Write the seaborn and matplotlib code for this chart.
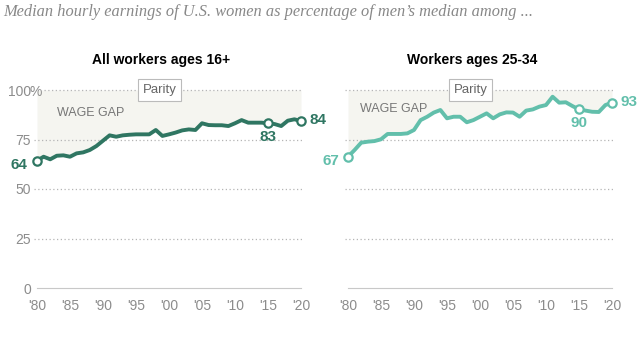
import matplotlib
matplotlib.use("Agg")
import matplotlib.pyplot as plt
import matplotlib.transforms as mtransforms
import seaborn as sns
import pandas as pd

# values
years = list(range(1980, 2021))
all_workers = [64.3, 66.3, 65.0, 66.8, 67.0, 66.3, 68.0, 68.5, 69.7, 71.7,
               74.4, 77.1, 76.4, 77.1, 77.4, 77.6, 77.6, 77.6, 79.8, 76.8,
               77.6, 78.5, 79.6, 80.1, 79.8, 83.2, 82.3, 82.2, 82.2, 81.8,
               83.2, 84.8, 83.5, 83.5, 83.5, 83.2, 82.8, 81.8, 84.5, 85.2,
               84.3]
young_workers = [66.3, 69.7, 73.4, 73.9, 74.2, 75.1, 77.8, 77.8, 77.8, 78.1,
                 79.8, 84.8, 86.5, 88.6, 89.9, 85.7, 86.5, 86.5, 83.7, 84.8,
                 86.5, 88.2, 85.7, 87.7, 88.7, 88.6, 86.5, 89.6, 90.2, 91.6,
                 92.4, 96.6, 93.6, 93.8, 91.9, 90.2, 89.6, 89.0, 88.9, 92.4,
                 93.6]
panel_titles = ["All workers ages 16+", "Workers ages 25-34"]
marked_years = [1980, 2015, 2020]
all_labels = ["64", "83", "84"]
young_labels = ["67", "90", "93"]
xtick_years = [1980, 1985, 1990, 1995, 2000, 2005, 2010, 2015, 2020]
xtick_labels = ["'80", "'85", "'90", "'95", "'00", "'05", "'10", "'15", "'20"]
ytick_vals = [0, 25, 50, 75, 100]
ytick_labels = ["0", "25", "50", "75", "100"]

sns.set_style("white")
plt.rcParams['font.family'] = ['Liberation Sans Narrow', 'Liberation Sans', 'DejaVu Sans']

dark = "#2f7662"
light = "#62bfab"
grey = "#8c8c8c"

df = pd.DataFrame({"year": years, "all": all_workers, "young": young_workers})

fig = plt.figure(figsize=(6.4, 3.6), dpi=100)
ax1 = fig.add_axes([37 / 640, 72 / 360, 264 / 640, 198 / 360])
ax2 = fig.add_axes([348 / 640, 72 / 360, 264 / 640, 198 / 360])

panels = [(ax1, "all", dark, all_labels), (ax2, "young", light, young_labels)]
for i, (ax, col, color, labels) in enumerate(panels):
    ax.fill_between(df["year"], df[col], 100, color="#f5f5f0", lw=0, zorder=0)
    for v in [25, 50, 75, 100]:
        start = 0.027 if (i == 0 and v == 100) else -0.01
        ax.axhline(v, color="#b5b5b5", ls=(0, (1, 2)), lw=0.9, zorder=1,
                   xmin=start, xmax=1.005, clip_on=False)
    sns.lineplot(data=df, x="year", y=col, ax=ax, color=color, lw=2.8,
                 zorder=3, clip_on=False)
    mk = df[df["year"].isin(marked_years)]
    ax.plot(mk["year"], mk[col], "o", ms=6, mfc="white", mec=color, mew=1.6,
            zorder=4, clip_on=False)

    ax.set_xlim(1980, 2020)
    ax.set_ylim(0, 100)
    ax.set_xlabel("")
    ax.set_ylabel("")
    sns.despine(ax=ax, left=True)
    ax.spines["bottom"].set_color("#c8c8c8")
    ax.set_xticks(xtick_years)
    ax.set_xticklabels(xtick_labels)
    ax.tick_params(axis="x", colors="#c8c8c8", length=5, width=0.8,
                   labelcolor=grey, labelsize=10, pad=3)
    ax.set_yticks(ytick_vals)
    if i == 0:
        ax.set_yticklabels(ytick_labels)
        ax.tick_params(axis="y", length=0, labelcolor=grey, labelsize=10, pad=4.5)
        trans = mtransforms.blended_transform_factory(ax.transAxes, ax.transData)
        ax.text(-7.3 / 264, 100, "%", transform=trans, ha="left",
                va="center_baseline", fontsize=10, color=grey)
    else:
        ax.set_yticklabels([])
        ax.tick_params(axis="y", length=0)

    ax.text(1998.6, 100, "Parity", ha="center", va="center", fontsize=9.5,
            color="#666666", zorder=5,
            bbox=dict(boxstyle="square,pad=0.35", fc="white", ec="#bbbbbb", lw=0.8))
    ax.text(1998.8, 115, panel_titles[i], ha="center", va="center", fontsize=10,
            fontweight="bold", color="black")

    v0, v15, v20 = mk[col].tolist()
    ax.text(1978.6, v0 - 2, labels[0], ha="right", va="center", fontsize=11,
            fontweight="bold", color=color)
    ax.text(2015, v15 - 7, labels[1], ha="center", va="center", fontsize=11,
            fontweight="bold", color=color)
    ax.text(2021.3, v20 + 0.5, labels[2], ha="left", va="center", fontsize=11,
            fontweight="bold", color=color)

ax1.text(1983, 88.5, "WAGE GAP", ha="left", va="center", fontsize=9, color="#777777")
ax2.text(1981.8, 90.5, "WAGE GAP", ha="left", va="center", fontsize=9, color="#777777")

fig.text(3 / 640, 1 - 12 / 360, "Median hourly earnings of U.S. women as percentage of men\u2019s median among ...",
         ha="left", va="center", fontsize=11.8, style="italic", color="#888888",
         family=["Liberation Serif", "DejaVu Serif"])

fig.savefig("out.png", dpi=100)
